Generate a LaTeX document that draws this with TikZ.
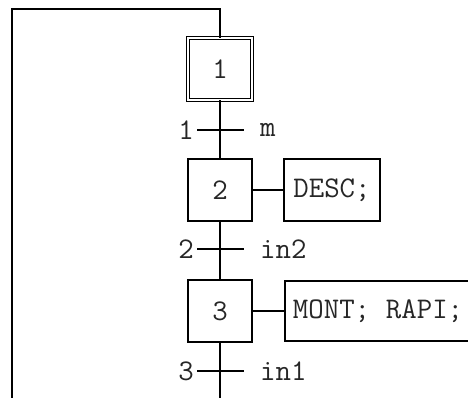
\documentclass[tikz,border=0pt]{standalone}
\usepackage{fontspec}
\setmonofont{Latin Modern Mono}[WordSpace={1,0,0}]
\begin{document}
\begin{tikzpicture}[x=1pt,y=-1pt,
  every node/.style={font=\ttfamily\fontsize{30}{34}\selectfont,text=black!85},
  line/.style={line width=1.8pt},
  stepbox/.style={draw,line width=1.8pt,minimum width=64pt,minimum height=62pt,inner sep=0pt},
  initbox/.style={stepbox,double,double distance=2.2pt,line width=0.9pt},
  actbox/.style={draw,line width=1.8pt,minimum height=60pt,inner sep=0pt},
  tlabel/.style={inner sep=0pt}]
\useasboundingbox (0,0) rectangle (468,398);
\node[initbox] (s1) at (220,69) {1};
\node[stepbox] (s2) at (220,190) {2};
\node[stepbox] (s3) at (220,311) {3};
\node[actbox,minimum width=96pt,minimum height=62pt] (a2) at (332,190) {DESC;};
\node[actbox,anchor=west,text width=180pt,align=left,inner xsep=8pt] (a3) at (284,311) {MONT;\hspace{15.75pt}RAPI;};
\coordinate (top) at (220,9);
\coordinate (tl) at (12,9);
\coordinate (bl) at (12,402);
\coordinate (bot) at (220,402);
\coordinate (t1) at (220,130);
\coordinate (t2) at (220,249);
\coordinate (t3) at (220,371);
\draw[line] (bl) -- (tl) -- (top) -- (s1.north);
\draw[line] (s1.south) -- (s2.north);
\draw[line] (s2.south) -- (s3.north);
\draw[line] (s3.south) -- (bot);
\draw[line] (s2.east) -- (a2.west);
\draw[line] (s3.east) -- (a3.west);
\foreach \t/\n/\c in {t1/1/m, t2/2/in2, t3/3/in1}{
  \draw[line] ([xshift=-23pt]\t) -- ([xshift=24pt]\t);
  \node[tlabel,anchor=east] (n\n) at ([xshift=-26pt]\t) {\n};
  \node[tlabel,anchor=west] (c\n) at ([xshift=40pt]\t) {\c};
}
\end{tikzpicture}
\end{document}
